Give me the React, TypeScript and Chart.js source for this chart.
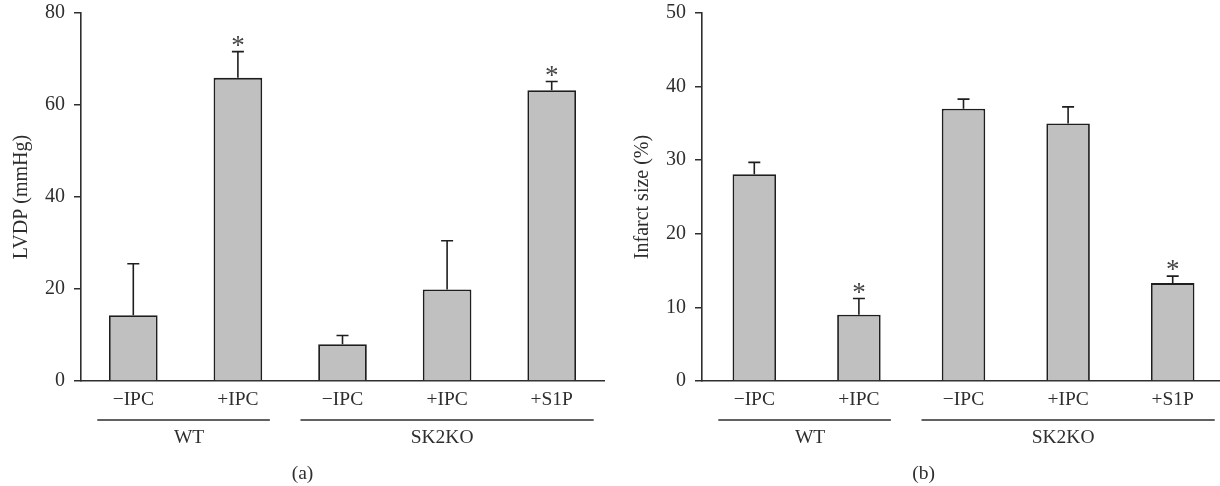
import React, { useEffect, useRef } from "react";
import { Chart, registerables } from "chart.js";

Chart.register(...registerables);

// ---------- data ----------
const categories = ["\u2212IPC", "+IPC", "\u2212IPC", "+IPC", "+S1P"];
const groupNames = ["WT", "SK2KO"];
const groupFirst = [0, 2];
const groupLast = [1, 4];

const lvdpMean = [14.3, 65.9, 8.0, 19.9, 63.2];
const lvdpSD = [11.2, 5.7, 1.9, 10.6, 1.9];
const lvdpSig = ["", "*", "", "", "*"];
const lvdpTicks = [0, 20, 40, 60, 80];

const infarctMean = [28.1, 9.0, 37.0, 35.0, 13.3];
const infarctSD = [1.6, 2.2, 1.3, 2.25, 0.95];
const infarctSig = ["", "*", "", "", "*"];
const infarctTicks = [0, 10, 20, 30, 40, 50];

// ---------- styles ----------
const FONT = '"Liberation Serif", "Times New Roman", serif';
const INK = "#2e2e2e";
const BAR_FILL = "#c0c0c0";
const BAR_EDGE = "#1e1e1e";

const annotPlugin = {
  id: "annot",
  afterDatasetsDraw(chart: any, _args: any, opts: any) {
    const { ctx, chartArea } = chart;
    const x = chart.scales.x;
    const y = chart.scales.y;
    ctx.save();
    // error bars + significance marks
    opts.mean.forEach((m: number, i: number) => {
      const px = x.getPixelForValue(i);
      const yBar = y.getPixelForValue(m);
      const yTop = y.getPixelForValue(m + opts.sd[i]);
      ctx.strokeStyle = BAR_EDGE;
      ctx.lineWidth = 1.6;
      ctx.beginPath();
      ctx.moveTo(px, yBar);
      ctx.lineTo(px, yTop);
      ctx.moveTo(px - 6, yTop);
      ctx.lineTo(px + 6, yTop);
      ctx.stroke();
      if (opts.sig[i]) {
        ctx.font = `27px ${FONT}`;
        ctx.fillStyle = "#444";
        ctx.textAlign = "center";
        ctx.textBaseline = "alphabetic";
        const mt = ctx.measureText(opts.sig[i]);
        const cy = yTop - 10.5;
        const base = cy + (mt.actualBoundingBoxAscent - mt.actualBoundingBoxDescent) / 2;
        ctx.fillText(opts.sig[i], px, base);
      }
    });
    // group lines and labels
    ctx.strokeStyle = INK;
    ctx.lineWidth = 1.5;
    ctx.fillStyle = INK;
    ctx.font = `19.5px ${FONT}`;
    ctx.textAlign = "center";
    ctx.textBaseline = "middle";
    groupNames.forEach((g, k) => {
      const a = x.getPixelForValue(groupFirst[k]);
      const b = x.getPixelForValue(groupLast[k]);
      const l0 = k === 0 ? a - 36 : a - 42;
      const l1 = k === 0 ? b + 32 : b + 42;
      ctx.beginPath();
      ctx.moveTo(l0, 420);
      ctx.lineTo(l1, 420);
      ctx.stroke();
      const dx = k === 0 ? 3.5 : -5;
      ctx.fillText(g, (a + b) / 2 + dx, 438);
    });
    // panel label
    ctx.fillText(opts.panel, (chartArea.left + chartArea.right) / 2 - 40, 474);
    ctx.restore();
  },
};

function buildConfig(
  mean: number[],
  sd: number[],
  sig: string[],
  ticks: number[],
  title: string,
  panel: string,
  barPct: number
): any {
  return {
    type: "bar",
    data: {
      labels: categories,
      datasets: [
        {
          data: mean,
          backgroundColor: BAR_FILL,
          borderColor: BAR_EDGE,
          borderWidth: 1.8,
          barPercentage: barPct,
          categoryPercentage: 1,
        },
      ],
    },
    plugins: [annotPlugin],
    options: {
      responsive: false,
      animation: false,
      devicePixelRatio: 1,
      layout: { padding: { left: 0, top: 13, right: 17, bottom: 0 } },
      plugins: {
        legend: { display: false },
        tooltip: { enabled: false },
        annot: { mean, sd, sig, panel },
      },
      scales: {
        x: {
          type: "category",
          offset: true,
          grid: { display: false, drawTicks: false },
          border: { display: true, color: INK, width: 1.6 },
          ticks: {
            color: INK,
            font: { family: FONT, size: 19.5 },
            padding: 7,
            maxRotation: 0,
            autoSkip: false,
          },
          afterFit: (s: any) => {
            s.height = 105;
            s.paddingLeft = 0;
            s.paddingRight = 0;
          },
        },
        y: {
          min: ticks[0],
          max: ticks[ticks.length - 1],
          ticks: {
            stepSize: ticks[1] - ticks[0],
            color: INK,
            font: { family: FONT, size: 20 },
            padding: 9,
          },
          grid: {
            drawOnChartArea: false,
            drawTicks: true,
            tickLength: 7,
            color: INK,
            lineWidth: 1.5,
          },
          border: { display: true, color: INK, width: 1.6 },
          title: {
            display: true,
            text: title,
            color: INK,
            font: { family: FONT, size: 20 },
            padding: { top: 10, bottom: 0 },
          },
          afterFit: (s: any) => {
            s.width = 81;
            s.paddingTop = 0;
            s.paddingBottom = 0;
          },
        },
      },
    },
  };
}

export default function App() {
  const refA = useRef<HTMLCanvasElement | null>(null);
  const refB = useRef<HTMLCanvasElement | null>(null);

  useEffect(() => {
    const a = new Chart(
      refA.current as HTMLCanvasElement,
      buildConfig(lvdpMean, lvdpSD, lvdpSig, lvdpTicks, "LVDP (mmHg)", "(a)", 0.465)
    );
    const b = new Chart(
      refB.current as HTMLCanvasElement,
      buildConfig(infarctMean, infarctSD, infarctSig, infarctTicks, "Infarct size (%)", "(b)", 0.416)
    );
    return () => {
      a.destroy();
      b.destroy();
    };
  }, []);

  return (
    <div
      style={{
        position: "absolute",
        left: 0,
        top: 0,
        width: 1220,
        height: 486,
        overflow: "hidden",
        background: "#fff",
      }}
    >
      <canvas ref={refA} width={621} height={486} style={{ position: "absolute", left: 0, top: 0 }} />
      <canvas ref={refB} width={621} height={486} style={{ position: "absolute", left: 621, top: 0 }} />
    </div>
  );
}
